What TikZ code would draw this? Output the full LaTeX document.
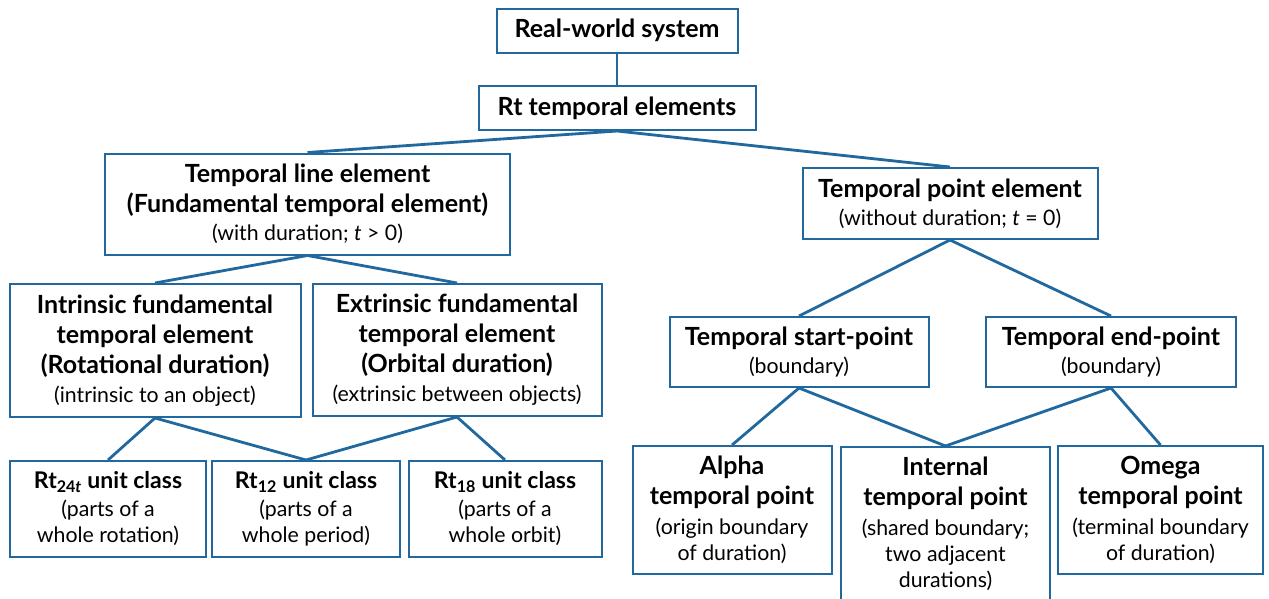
\documentclass[tikz,border=0pt]{standalone}
\usepackage{fontspec}
\setmainfont{Lato}
\definecolor{bc}{RGB}{32,104,158}
\newcommand\sbt[1]{{\fontsize{21.3}{27}\selectfont\mdseries #1}}
\begin{document}
\begin{tikzpicture}[x=1pt,y=-1pt,
  box/.style={draw=bc, line width=2pt, inner sep=0pt, align=center, fill=white,
    font=\fontsize{25}{30}\selectfont\bfseries},
  sbox/.style={box, font=\fontsize{23}{28}\selectfont\bfseries},
  txt/.style={inner sep=0pt, align=center, font=\fontsize{25}{30}\selectfont\bfseries},
  link/.style={draw=bc, line width=2.8pt}]
\useasboundingbox (0,0) rectangle (1269,598);
\clip (0,0) rectangle (1269,598);
\fill[white] (0,0) rectangle (1269,598);

% nodes
\node (rw) [box, minimum width=241, minimum height=44] at (617,30.5) {Real-world system};
\node (rt) [box, minimum width=277, minimum height=44] at (617,108) {Rt temporal elements};
\node (tl) [box, minimum width=405, minimum height=101] at (307.5,204)
  {Temporal line element\\(Fundamental temporal element)\\[-2pt]\sbt{(with duration; \textit{t} > 0)}};
\node (tp) [box, minimum width=295, minimum height=71] at (950,203.5)
  {Temporal point element\\[-2pt]\sbt{(without duration; \textit{t} = 0)}};
\node (in) [box, minimum width=291, minimum height=133] at (155,350.5)
  {Intrinsic fundamental\\temporal element\\(Rotational duration)\\[-1pt]\sbt{(intrinsic to an object)}};
\node (ex) [box, minimum width=289, minimum height=132] at (457,350)
  {Extrinsic fundamental\\temporal element\\(Orbital duration)\\[-1pt]\sbt{(extrinsic between objects)}};
\node (sp) [box, minimum width=259, minimum height=70] at (799,352)
  {Temporal start-point\\[-2pt]\sbt{(boundary)}};
\node (ep) [box, minimum width=250, minimum height=70] at (1111,352)
  {Temporal end-point\\[-2pt]\sbt{(boundary)}};
\node (r24) [sbox, minimum width=196, minimum height=96] at (108,509)
  {Rt\textsubscript{24\textit{t}} unit class\\\sbt{(parts of a}\\[-2pt]\sbt{whole rotation)}};
\node (r12) [sbox, minimum width=188, minimum height=96] at (306,509)
  {Rt\textsubscript{12} unit class\\\sbt{(parts of a}\\[-2pt]\sbt{whole period)}};
\node (r18) [sbox, minimum width=193, minimum height=96] at (505,509)
  {Rt\textsubscript{18} unit class\\\sbt{(parts of a}\\[-2pt]\sbt{whole orbit)}};
\node (al) [box, minimum width=199, minimum height=128] at (732,510)
  {Alpha\\temporal point\\\sbt{(origin boundary}\\[-4pt]\sbt{of duration)}};
\node (it) [box, minimum width=209, minimum height=168, anchor=north] at (945.5,446) {};
\node (itt) [txt] at (945.5,524)
  {Internal\\temporal point\\\sbt{(shared boundary;}\\[-4pt]\sbt{two adjacent}\\[-4pt]\sbt{durations)}};
\node (om) [box, minimum width=205, minimum height=128] at (1160.5,510)
  {Omega\\temporal point\\\sbt{(terminal boundary}\\[-4pt]\sbt{of duration)}};

% connectors
\draw[link] (rw.south) -- (rt.north);
\draw[link] (rt.south) -- (tl.north);
\draw[link] (rt.south) -- (tp.north);
\draw[link] (tl.south) -- (in.north);
\draw[link] (tl.south) -- (ex.north);
\draw[link] (in.south) -- (r24.north);
\draw[link] (in.south) -- (r12.north);
\draw[link] (ex.south) -- (r12.north);
\draw[link] (ex.south) -- (r18.north);
\draw[link] (tp.south) -- (sp.north);
\draw[link] (tp.south) -- (ep.north);
\draw[link] (sp.south) -- (al.north);
\draw[link] (sp.south) -- (it.north);
\draw[link] (ep.south) -- (it.north);
\draw[link] (ep.south) -- (om.north);
\end{tikzpicture}
\end{document}
